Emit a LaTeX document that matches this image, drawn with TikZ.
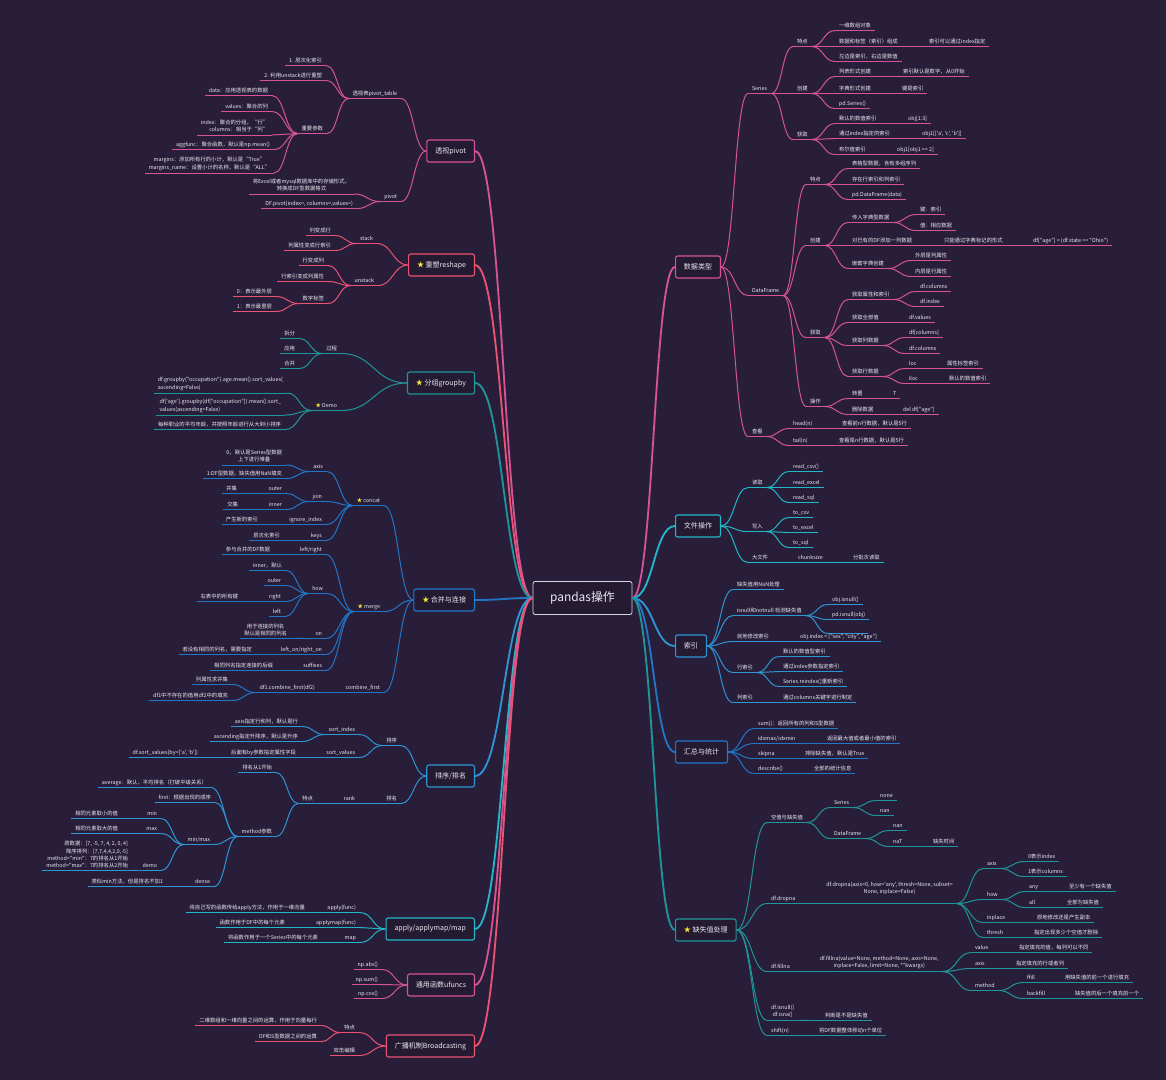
\documentclass[tikz,border=0pt]{standalone}
\usepackage{fontspec}
\setmainfont{Noto Sans CJK SC}[Ligatures=TeXOff]
\usetikzlibrary{positioning,calc}
\definecolor{bgPurple}{RGB}{41,30,58}
\definecolor{boxFill}{RGB}{36,26,50}
\definecolor{inkWhite}{RGB}{236,234,242}
\definecolor{starYellow}{RGB}{250,230,60}
\definecolor{pinkA}{RGB}{214,84,150}
\definecolor{redA}{RGB}{236,82,115}
\definecolor{tealA}{RGB}{32,150,152}
\definecolor{blueA}{RGB}{34,118,200}
\definecolor{blueB}{RGB}{46,150,212}
\definecolor{cyanA}{RGB}{34,184,200}
\newcommand{\leaffont}{\fontsize{7.6pt}{10.2pt}\selectfont}
\newcommand{\topicfont}{\fontsize{10pt}{12pt}\selectfont}
\newcommand{\rootfont}{\fontsize{17pt}{20pt}\selectfont}
\newcommand{\ystar}{\textcolor{starYellow}{★}}
\colorlet{brc}{pinkA}
\tikzset{
  leaf/.style={text=inkWhite, font=\leaffont, inner xsep=5.5pt, inner ysep=2pt, text height=6pt, text depth=2.5pt,
    append after command={(\tikzlastnode.south west) edge[draw=brc, line width=1.4pt] (\tikzlastnode.south east)}},
  rl/.style={leaf, anchor=west},
  ll/.style={leaf, anchor=east},
  mltext/.style={leaf, align=center, text height=, text depth=, inner ysep=3.5pt},
  topic/.style={draw=brc, line width=1.6pt, rounded corners=3pt, fill=boxFill, text=inkWhite, font=\topicfont, minimum height=1.1cm, inner xsep=0.42cm},
  rootbox/.style={draw=inkWhite!80!gray, line width=1.2pt, rounded corners=3pt, fill=boxFill, text=inkWhite, font=\rootfont, minimum width=4.95cm, minimum height=1.65cm},
  lk/.style={draw=brc, line width=1.4pt, to path={let \p1=(\tikztostart), \p2=(\tikztotarget) in .. controls ({(\x1+\x2)/2},\y1) and ({(\x1+\x2)/2},\y2) .. (\tikztotarget)}},
  trunk/.style={lk, line width=2.6pt}
}
\begin{document}
\begin{tikzpicture}[x=0.05cm, y=-0.05cm]
\fill[bgPurple] (0,0) rectangle (1166,1080);
\useasboundingbox (0,0) rectangle (1166,1080);
\node[rootbox] (root) at (582.5,598) {pandas操作};

% ---- 数据类型
\colorlet{brc}{pinkA}
\node[topic, anchor=west] (tData) at (675,267) {数据类型};
\draw[trunk] (root.east) to (tData.west);
\node[rl] (ser) at (748,89) {Series};
\node[rl] (dfm) at (748,291) {DataFrame};
\node[rl] (see) at (748,432) {查看};
\node[rl] (serA) at (793,42) {特点};
\node[rl] (serB) at (793,89) {创建};
\node[rl] (serC) at (793,135) {获取};
\node[rl] (serA1) at (835,26) {一维数组对象};
\node[rl] (serA2) at (835,42) {数据和标签（索引）组成};
\node[rl] (serA2a) at (925,42) {索引可以通过index指定};
\node[rl] (serA3) at (835,57) {左边是索引，右边是数值};
\node[rl] (serB1) at (835,72) {列表形式创建};
\node[rl] (serB1a) at (899,72) {索引默认是数字，从0开始};
\node[rl] (serB2) at (835,89) {字典形式创建};
\node[rl] (serB2a) at (898,89) {键是索引};
\node[rl] (serB3) at (835,104) {pd.Series()};
\node[rl] (serC1) at (835,119) {默认的数值索引};
\node[rl] (serC1a) at (904,119) {obj[1:3]};
\node[rl] (serC2) at (835,134) {通过index指定的索引};
\node[rl] (serC2a) at (918,134) {obj1[['a', 'c', 'b']]};
\node[rl] (serC3) at (835,150) {布尔值索引};
\node[rl] (serC3a) at (893,150) {obj1[obj1 >= 2]};
\node[rl] (dfA) at (806,180) {特点};
\node[rl] (dfA1) at (848,164) {表格型数据，含有多组序列};
\node[rl] (dfA2) at (848,180) {存在行索引和列索引};
\node[rl] (dfA3) at (848,195) {pd.DataFrame(data)};
\node[rl] (dfB) at (806,241) {创建};
\node[rl] (dfB1) at (848,218) {传入字典型数据};
\node[rl] (dfB1a) at (916,210) {键：索引};
\node[rl] (dfB1b) at (916,226) {值：相应数据};
\node[rl] (dfB2) at (848,241) {对已有的DF添加一列数据};
\node[rl] (dfB2a) at (940,241) {只能通过字典标记的形式};
\node[rl] (dfB2b) at (1029,241) {df["age"] = (df.state == "Ohio")};
\node[rl] (dfB3) at (848,264) {嵌套字典创建};
\node[rl] (dfB3a) at (911,256) {外层是列属性};
\node[rl] (dfB3b) at (911,272) {内层是行属性};
\node[rl] (dfC) at (806,333) {获取};
\node[rl] (dfC1) at (848,295) {获取属性和索引};
\node[rl] (dfC1a) at (916,287) {df.columns};
\node[rl] (dfC1b) at (916,302) {df.index};
\node[rl] (dfC2) at (848,318) {获取全部值};
\node[rl] (dfC2a) at (905,318) {df.values};
\node[rl] (dfC3) at (848,341) {获取列数据};
\node[rl] (dfC3a) at (905,333) {df[columns]};
\node[rl] (dfC3b) at (905,349) {df.columns};
\node[rl] (dfC4) at (848,372) {获取行数据};
\node[rl] (dfC4a) at (905,364) {loc};
\node[rl] (dfC4a1) at (943,364) {属性标签索引};
\node[rl] (dfC4b) at (905,379) {iloc};
\node[rl] (dfC4b1) at (945,379) {默认的数值索引};
\node[rl] (dfD) at (806,402) {操作};
\node[rl] (dfD1) at (848,394) {转置};
\node[rl] (dfD1a) at (889,394) {T};
\node[rl] (dfD2) at (848,410) {删除数据};
\node[rl] (dfD2a) at (899,410) {del df["age"]};
\node[rl] (seeA) at (789,424) {head(n)};
\node[rl] (seeA1) at (838,424) {查看前n行数据，默认是5行};
\node[rl] (seeB) at (789,441) {tail(n)};
\node[rl] (seeB1) at (835,441) {查看尾n行数据，默认是5行};
\foreach \c in {ser,dfm,see} \draw[lk] (tData.east) to (\c.south west);
\foreach \a/\b in {ser/serA, ser/serB, ser/serC, serA/serA1, serA/serA2, serA/serA3, serA2/serA2a,
  serB/serB1, serB/serB2, serB/serB3, serB1/serB1a, serB2/serB2a, serC/serC1, serC/serC2, serC/serC3,
  serC1/serC1a, serC2/serC2a, serC3/serC3a, dfm/dfA, dfm/dfB, dfm/dfC, dfm/dfD, dfA/dfA1, dfA/dfA2,
  dfA/dfA3, dfB/dfB1, dfB/dfB2, dfB/dfB3, dfB1/dfB1a, dfB1/dfB1b, dfB2/dfB2a, dfB2a/dfB2b, dfB3/dfB3a,
  dfB3/dfB3b, dfC/dfC1, dfC/dfC2, dfC/dfC3, dfC/dfC4, dfC1/dfC1a, dfC1/dfC1b, dfC2/dfC2a, dfC3/dfC3a,
  dfC3/dfC3b, dfC4/dfC4a, dfC4/dfC4b, dfC4a/dfC4a1, dfC4b/dfC4b1, dfD/dfD1, dfD/dfD2, dfD1/dfD1a,
  dfD2/dfD2a, see/seeA, see/seeB, seeA/seeA1, seeB/seeB1}
  \draw[lk] (\a.south east) to (\b.south west);

% ---- 文件操作
\colorlet{brc}{cyanA}
\node[topic, anchor=west] (tFile) at (675,526) {文件操作};
\draw[trunk] (root.east) to (tFile.west);
\node[rl] (fRd) at (748,483) {读取};
\node[rl] (fRd1) at (789,467) {read\_csv()};
\node[rl] (fRd2) at (789,483) {read\_excel};
\node[rl] (fRd3) at (789,498) {read\_sql};
\node[rl] (fWr) at (748,527) {写入};
\node[rl] (fWr1) at (789,513) {to\_csv};
\node[rl] (fWr2) at (789,528) {to\_excel};
\node[rl] (fWr3) at (789,543) {to\_sql};
\node[rl] (fBig) at (748,558) {大文件};
\node[rl] (fBig1) at (794,558) {chunksize};
\node[rl] (fBig2) at (849,558) {分批次读取};
\foreach \c in {fRd,fWr,fBig} \draw[lk] (tFile.east) to (\c.south west);
\foreach \a/\b in {fRd/fRd1, fRd/fRd2, fRd/fRd3, fWr/fWr1, fWr/fWr2, fWr/fWr3, fBig/fBig1, fBig1/fBig2}
  \draw[lk] (\a.south east) to (\b.south west);

% ---- 索引
\colorlet{brc}{blueB}
\node[topic, anchor=west] (tIdx) at (675,646) {索引};
\draw[trunk] (root.east) to (tIdx.west);
\node[rl] (iNa) at (733,585) {缺失值用NaN处理};
\node[rl] (iNull) at (733,611) {isnull和notnull 检测缺失值};
\node[rl] (iNull1) at (828,600) {obj.isnull()};
\node[rl] (iNull2) at (828,615) {pd.isnull(obj)};
\node[rl, minimum width=2cm] (iNull3) at (828,629) {};
\node[rl] (iSet) at (733,637) {就地修改索引};
\node[rl] (iSet1) at (796,637) {obj.index = ["sex", "city", "age"]};
\node[rl] (iRow) at (733,668) {行索引};
\node[rl] (iRow1) at (779,652) {默认的数值型索引};
\node[rl] (iRow2) at (779,667) {通过index参数指定索引};
\node[rl] (iRow3) at (779,682) {Series.reindex()重新索引};
\node[rl] (iCol) at (733,698) {列索引};
\node[rl] (iCol1) at (779,698) {通过columns关键字进行制定};
\foreach \c in {iNa,iNull,iSet,iRow,iCol} \draw[lk] (tIdx.east) to (\c.south west);
\foreach \a/\b in {iNull/iNull1, iNull/iNull2, iNull/iNull3, iSet/iSet1, iRow/iRow1, iRow/iRow2,
  iRow/iRow3, iCol/iCol1}
  \draw[lk] (\a.south east) to (\b.south west);

% ---- 汇总与统计
\colorlet{brc}{blueA}
\node[topic, anchor=west] (tSum) at (675,752) {汇总与统计};
\draw[trunk] (root.east) to (tSum.west);
\node[rl] (sSum) at (754,724) {sum()：返回所有的列和S型数据};
\node[rl] (sIdx) at (754,739) {idxmax/idxmin};
\node[rl] (sIdx1) at (823,739) {返回最大值或者最小值的索引};
\node[rl] (sSkip) at (754,754) {skipna};
\node[rl] (sSkip1) at (801,754) {排除缺失值，默认是True};
\node[rl] (sDesc) at (754,769) {describe()};
\node[rl] (sDesc1) at (810,769) {全部的统计信息};
\foreach \c in {sSum,sIdx,sSkip,sDesc} \draw[lk] (tSum.east) to (\c.south west);
\foreach \a/\b in {sIdx/sIdx1, sSkip/sSkip1, sDesc/sDesc1}
  \draw[lk] (\a.south east) to (\b.south west);

% ---- 缺失值处理
\colorlet{brc}{tealA}
\node[topic, anchor=west] (tMiss) at (675,930) {\ystar\ 缺失值处理};
\draw[trunk] (root.east) to (tMiss.west);
\node[rl] (mEmp) at (767,818) {空值与缺失值};
\node[rl] (mEmpS) at (830,803) {Series};
\node[rl] (mEmpS1) at (876,796) {none};
\node[rl] (mEmpS2) at (876,811) {nan};
\node[rl] (mEmpD) at (830,834) {DataFrame};
\node[rl] (mEmpD1) at (889,826) {nan};
\node[rl] (mEmpD2) at (889,842) {naT};
\node[rl] (mEmpD2a) at (929,842) {缺失时间};
\node[rl] (mDrop) at (767,899) {df.dropna};
\node[mltext, anchor=south west, inner ysep=12pt] (mDropF) at ($(mDrop.south east)+(23,0)$) {df.dropna(axis=0, how='any', thresh=None, subset=\\None, inplace=False)};
\node[rl] (mDrAx) at (983,864) {axis};
\node[rl] (mDrAx1) at (1024,857) {0表示index};
\node[rl] (mDrAx2) at (1024,872) {1表示columns};
\node[rl] (mDrHow) at (983,895) {how};
\node[rl] (mDrHow1) at (1025,887) {any};
\node[rl] (mDrHow1a) at (1065,887) {至少有一个缺失值};
\node[rl] (mDrHow2) at (1025,903) {all};
\node[rl] (mDrHow2a) at (1063,903) {全部为缺失值};
\node[rl] (mDrIn) at (983,918) {inplace};
\node[rl] (mDrIn1) at (1033,918) {原地修改还是产生副本};
\node[rl] (mDrTh) at (983,933) {thresh};
\node[rl] (mDrTh1) at (1030,933) {指定出现多少个空值才删除};
\node[rl] (mFill) at (767,967) {df.fillna};
\node[mltext, anchor=south west] (mFillF) at ($(mFill.south east)+(22,0)$) {df.fillna(value=None, method=None, axis=None,\\inplace=False, limit=None, **kwargs)};
\node[rl] (mFiVal) at (971,948) {value};
\node[rl] (mFiVal1) at (1015,948) {指定填充的值，每列可以不同};
\node[rl] (mFiAx) at (971,964) {axis};
\node[rl] (mFiAx1) at (1012,964) {指定填充的行或者列};
\node[rl] (mFiMe) at (971,986) {method};
\node[rl] (mFiMe1) at (1023,978) {ffill};
\node[rl] (mFiMe1a) at (1061,978) {用缺失值的前一个进行填充};
\node[rl] (mFiMe2) at (1023,994) {backfill};
\node[rl] (mFiMe2a) at (1071,994) {缺失值的后一个填充前一个};
\node[mltext, anchor=south west] (mIsna) at (767,1020.4) {df.isnull()\\df.isna()};
\node[rl] (mIsna1) at (821,1016) {判断是不是缺失值};
\node[rl] (mShift) at (767,1031) {shift(n)};
\node[rl] (mShift1) at (815,1031) {将DF数据整体移动n个单位};
\foreach \c in {mEmp,mDrop,mFill,mIsna,mShift} \draw[lk] (tMiss.east) to (\c.south west);
\foreach \a/\b in {mEmp/mEmpS, mEmp/mEmpD, mEmpS/mEmpS1, mEmpS/mEmpS2, mEmpD/mEmpD1, mEmpD/mEmpD2,
  mEmpD2/mEmpD2a, mDrop/mDropF, mDropF/mDrAx, mDropF/mDrHow, mDropF/mDrIn, mDropF/mDrTh,
  mDrAx/mDrAx1, mDrAx/mDrAx2, mDrHow/mDrHow1, mDrHow/mDrHow2, mDrHow1/mDrHow1a, mDrHow2/mDrHow2a,
  mDrIn/mDrIn1, mDrTh/mDrTh1, mFill/mFillF, mFillF/mFiVal, mFillF/mFiAx, mFillF/mFiMe,
  mFiVal/mFiVal1, mFiAx/mFiAx1, mFiMe/mFiMe1, mFiMe/mFiMe2, mFiMe1/mFiMe1a, mFiMe2/mFiMe2a,
  mIsna/mIsna1, mShift/mShift1}
  \draw[lk] (\a.south east) to (\b.south west);

% ---- 透视pivot
\colorlet{brc}{pinkA}
\node[topic, anchor=east] (tPiv) at (475,151) {透视pivot};
\draw[trunk] (root.west) to (tPiv.east);
\node[ll] (pTab) at (401,94) {透视表pivot\_table};
\node[ll] (pTab1) at (326,61) {1. 层次化索引};
\node[ll] (pTab2) at (326,76) {2. 利用unstack进行重塑};
\node[ll] (pPar) at (327,129) {重要参数};
\node[ll] (pPar1) at (272,91) {data：应用透视表的数据};
\node[ll] (pPar2) at (272,107) {values：聚合的列};
\node[mltext, anchor=south east, align=right] (pPar3) at (272,135) {index：聚合的分组，“行”\\columns：相当于“列”};
\node[ll] (pPar4) at (274,145) {aggfunc：聚合函数，默认是np.mean()};
\node[mltext, anchor=south east] (pPar5) at (274,173) {margins：添加所有行的小计，默认是“True”\\margins\_name：设置小计的名称，默认是“ALL”};
\node[ll] (pPiv) at (401,197) {pivot};
\node[mltext, anchor=south east] (pPiv1) at (354,194) {将Excel或者mysql数据库中的存储形式，\\转换成DF型数据格式};
\node[ll] (pPiv2) at (357,204) {DF.pivot(index=, columns=,values=)};
\foreach \c in {pTab,pPiv} \draw[lk] (tPiv.west) to (\c.south east);
\foreach \a/\b in {pTab/pTab1, pTab/pTab2, pTab/pPar, pPar/pPar1, pPar/pPar2, pPar/pPar3, pPar/pPar4,
  pPar/pPar5, pPiv/pPiv1, pPiv/pPiv2}
  \draw[lk] (\a.south west) to (\b.south east);

% ---- 重塑reshape
\colorlet{brc}{redA}
\node[topic, anchor=east] (tRes) at (475,265) {\ystar\ 重塑reshape};
\draw[trunk] (root.west) to (tRes.east);
\node[ll] (rSt) at (377,239) {stack};
\node[ll] (rSt1) at (335,231) {列变成行};
\node[ll] (rSt2) at (335,246) {列属性变成行索引};
\node[ll] (rUn) at (378,281) {unstack};
\node[ll] (rUn1) at (328,261) {行变成列};
\node[ll] (rUn2) at (328,277) {行索引变成列属性};
\node[ll] (rUn3) at (328,299) {数字标签};
\node[ll] (rUn3a) at (276,292) {0：表示最外层};
\node[ll] (rUn3b) at (276,307) {1：表示最里层};
\foreach \c in {rSt,rUn} \draw[lk] (tRes.west) to (\c.south east);
\foreach \a/\b in {rSt/rSt1, rSt/rSt2, rUn/rUn1, rUn/rUn2, rUn/rUn3, rUn3/rUn3a, rUn3/rUn3b}
  \draw[lk] (\a.south west) to (\b.south east);

% ---- 分组groupby
\colorlet{brc}{tealA}
\node[topic, anchor=east] (tGrp) at (475,383) {\ystar\ 分组groupby};
\draw[trunk] (root.west) to (tGrp.east);
\node[ll] (gPro) at (341,349) {过程};
\node[ll] (gPro1) at (299,334) {拆分};
\node[ll] (gPro2) at (299,349) {应用};
\node[ll] (gPro3) at (299,364) {合并};
\node[ll] (gDemo) at (341,406) {\ystar\ Demo};
\node[mltext, anchor=south east, align=left] (gDemo1) at (287,393) {df.groupby("occupation").age.mean().sort\_values(\\ascending=False)};
\node[mltext, anchor=south east, align=left] (gDemo2) at (285,415) {df['age'].groupby(df["occupation"]).mean().sort\_\\values(ascending=False)};
\node[ll] (gDemo3) at (285,425) {每种职业的平均年龄，并按照年龄进行从大到小排序};
\foreach \c in {gPro,gDemo} \draw[lk] (tGrp.west) to (\c.south east);
\foreach \a/\b in {gPro/gPro1, gPro/gPro2, gPro/gPro3, gDemo/gDemo1, gDemo/gDemo2, gDemo/gDemo3}
  \draw[lk] (\a.south west) to (\b.south east);

% ---- 合并与连接
\colorlet{brc}{blueA}
\node[topic, anchor=east] (tMer) at (475,600) {\ystar\ 合并与连接};
\draw[trunk] (root.west) to (tMer.east);
\node[ll] (cCat) at (384,501) {\ystar\ concat};
\node[ll] (cAx) at (327,467) {axis};
\node[mltext, anchor=south east] (cAx1) at (286,465) {0，默认是Series型数据\\上下进行堆叠};
\node[ll] (cAx2) at (286,474) {1:DF型数据，缺失值用NaN填充};
\node[ll] (cJn) at (326,497) {join};
\node[ll] (cJn1) at (286,489) {outer};
\node[ll] (cJn1a) at (241,489) {并集};
\node[ll] (cJn2) at (286,505) {inner};
\node[ll] (cJn2a) at (242,505) {交集};
\node[ll] (cIg) at (326,520) {ignore\_index};
\node[ll] (cIg1) at (262,520) {产生新的索引};
\node[ll] (cKey) at (326,536) {keys};
\node[ll] (cKey1) at (284,536) {层次化索引};
\node[ll] (cMg) at (384,607) {\ystar\ merge};
\node[ll] (cLR) at (326,550) {left/right};
\node[ll] (cLR1) at (274,550) {参与合并的DF数据};
\node[ll] (cHow) at (327,589) {how};
\node[ll] (cHow1) at (286,566) {inner，默认};
\node[ll] (cHow2) at (285,581) {outer};
\node[ll] (cHow3) at (285,597) {right};
\node[ll] (cHow3a) at (242,597) {右表中的所有键};
\node[ll] (cHow4) at (285,612) {left};
\node[ll] (cOn) at (326,634) {on};
\node[mltext, anchor=south east] (cOn1) at (291,638.4) {用于连接的列名\\默认是相同的列名};
\node[ll] (cLo) at (326,650) {left\_on/right\_on};
\node[ll] (cLo1) at (256,650) {若没有相同的列名，需要指定};
\node[ll] (cSuf) at (326,666) {suffixes};
\node[ll] (cSuf1) at (277,666) {相同列名指定连接的后缀};
\node[ll] (cCf) at (384,688) {combine\_first};
\node[ll] (cCf1) at (319,688) {df1.combine\_first(df2)};
\node[ll] (cCf1a) at (232,680) {列属性求并集};
\node[ll] (cCf1b) at (232,696) {df1中不存在的值用df2中的填充};
\foreach \c in {cCat,cMg,cCf} \draw[lk] (tMer.west) to (\c.south east);
\foreach \a/\b in {cCat/cAx, cCat/cJn, cCat/cIg, cCat/cKey, cAx/cAx1, cAx/cAx2, cJn/cJn1, cJn/cJn2,
  cJn1/cJn1a, cJn2/cJn2a, cIg/cIg1, cKey/cKey1, cMg/cLR, cMg/cHow, cMg/cOn, cMg/cLo, cMg/cSuf,
  cLR/cLR1, cHow/cHow1, cHow/cHow2, cHow/cHow3, cHow/cHow4, cHow3/cHow3a, cOn/cOn1, cLo/cLo1,
  cSuf/cSuf1, cCf/cCf1, cCf1/cCf1a, cCf1/cCf1b}
  \draw[lk] (\a.south west) to (\b.south east);

% ---- 排序/排名
\colorlet{brc}{blueB}
\node[topic, anchor=east] (tSort) at (475,776) {排序/排名};
\draw[trunk] (root.west) to (tSort.east);
\node[ll] (oSrt) at (401,741) {排序};
\node[ll] (oSi) at (359,730) {sort\_index};
\node[ll] (oSi1) at (302,722) {axis指定行和列，默认是行};
\node[ll] (oSi2) at (302,737) {ascending指定升降序，默认是升序};
\node[ll] (oSv) at (359,753) {sort\_values};
\node[ll] (oSv1) at (300,753) {后面有by参数指定属性字段};
\node[ll] (oSv2) at (202,753) {df.sort\_values(by=['a', 'b'])};
\node[ll] (oRnk) at (401,799) {排名};
\node[ll] (oRk) at (359,799) {rank};
\node[ll] (oRkT) at (317,799) {特点};
\node[ll] (oRkT1) at (276,768) {排名从1开始};
\node[ll] (oMth) at (276,832) {method参数};
\node[ll] (oMth1) at (211,783) {average：默认，平均排名（打破平级关系）};
\node[ll] (oMth2) at (215,798) {first：根据出现的顺序};
\node[ll] (oMM) at (214,840) {min/max};
\node[ll] (oMin) at (161,814) {min};
\node[ll] (oMin1) at (122,814) {相同元素取小的值};
\node[ll] (oMax) at (161,829) {max};
\node[ll] (oMax1) at (122,829) {相同元素取大的值};
\node[ll] (oDemo) at (161,866) {demo};
\node[mltext, anchor=south east, align=right] (oDemo1) at (132,870.4) {原数据：[7, -5, 7, 4, 2, 0, 4]\\降序排列：[7,7,4,4,2,0,-5]\\method="min"：7的排名从1开始\\method="max"：7的排名从2开始};
\node[ll] (oMth4) at (214,882) {dense};
\node[ll] (oMth4a) at (167,882) {类似min方法，但是排名不加1};
\foreach \c in {oSrt,oRnk} \draw[lk] (tSort.west) to (\c.south east);
\foreach \a/\b in {oSrt/oSi, oSrt/oSv, oSi/oSi1, oSi/oSi2, oSv/oSv1, oSv1/oSv2, oRnk/oRk, oRk/oRkT,
  oRkT/oRkT1, oRkT/oMth, oMth/oMth1, oMth/oMth2, oMth/oMM, oMth/oMth4, oMM/oMin, oMM/oMax, oMM/oDemo,
  oMin/oMin1, oMax/oMax1, oDemo/oDemo1, oMth4/oMth4a}
  \draw[lk] (\a.south west) to (\b.south east);

% ---- apply/applymap/map
\colorlet{brc}{cyanA}
\node[topic, anchor=east] (tApp) at (475,929) {apply/applymap/map};
\draw[trunk] (root.west) to (tApp.east);
\node[ll] (aAp) at (360,908) {apply(func)};
\node[ll] (aAp1) at (309,908) {将自己写的函数传给apply方法，作用于一维向量};
\node[ll] (aMp) at (360,923) {applymap(func)};
\node[ll] (aMp1) at (289,923) {函数作用于DF中的每个元素};
\node[ll] (aM) at (360,938) {map};
\node[ll] (aM1) at (322,938) {将函数作用于一个Series中的每个元素};
\foreach \c in {aAp,aMp,aM} \draw[lk] (tApp.west) to (\c.south east);
\foreach \a/\b in {aAp/aAp1, aMp/aMp1, aM/aM1}
  \draw[lk] (\a.south west) to (\b.south east);

% ---- 通用函数ufuncs
\colorlet{brc}{pinkA}
\node[topic, anchor=east] (tUf) at (475,985) {通用函数ufuncs};
\draw[trunk] (root.west) to (tUf.east);
\node[ll] (uAbs) at (382,965) {np.abs()};
\node[ll] (uSum) at (382,980) {np.sum()};
\node[ll] (uCos) at (382,994) {np.cos()};
\foreach \c in {uAbs,uSum,uCos} \draw[lk] (tUf.west) to (\c.south east);

% ---- 广播机制Broadcasting
\colorlet{brc}{redA}
\node[topic, anchor=east] (tBc) at (475,1046) {广播机制Broadcasting};
\draw[trunk] (root.west) to (tBc.east);
\node[ll] (bFt) at (359,1028) {特点};
\node[ll] (bFt1) at (321,1021) {二维数组和一维向量之间的运算，作用于向量每行};
\node[ll] (bFt2) at (321,1037) {DF和S型数据之间的运算};
\node[ll] (bEd) at (359,1051) {双击编辑};
\foreach \c in {bFt,bEd} \draw[lk] (tBc.west) to (\c.south east);
\foreach \a/\b in {bFt/bFt1, bFt/bFt2}
  \draw[lk] (\a.south west) to (\b.south east);
\end{tikzpicture}
\end{document}
